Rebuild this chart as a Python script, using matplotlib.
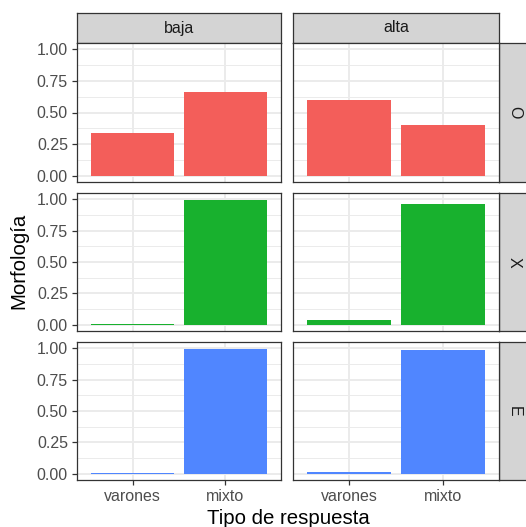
import numpy as np
import matplotlib
matplotlib.use("Agg")
import matplotlib.pyplot as plt
from matplotlib.ticker import FixedLocator

plt.rcParams['font.family'] = ['Liberation Sans', 'DejaVu Sans']

# data
respuestas = ["varones", "mixto"]
niveles = ["baja", "alta"]
morfologias = ["O", "X", "E"]
colores = ["#F35E5A", "#18B12E", "#5086FF"]

prop_O = {"baja": [0.34, 0.66], "alta": [0.595, 0.405]}
prop_X = {"baja": [0.005, 0.995], "alta": [0.037, 0.963]}
prop_E = {"baja": [0.004, 0.993], "alta": [0.013, 0.985]}
valores = [prop_O, prop_X, prop_E]

y_ticks = [0.0, 0.25, 0.5, 0.75, 1.0]
y_minor = [0.125, 0.375, 0.625, 0.875]

W, H = 526, 527
fig = plt.figure(figsize=(W / 100, H / 100), dpi=100)


def px_axes(x0, y0, x1, y1, **kw):
    return fig.add_axes([x0 / W, 1 - y1 / H, (x1 - x0) / W, (y1 - y0) / H], **kw)


def strip(x0, y0, x1, y1, label, rot=0):
    sa = px_axes(x0, y0, x1, y1)
    sa.set_facecolor("#D4D4D4")
    sa.set_xticks([])
    sa.set_yticks([])
    for s in sa.spines.values():
        s.set_color("#333333")
        s.set_linewidth(0.9)
    sa.text(0.5, 0.5, label, transform=sa.transAxes, ha="center", va="center",
            fontsize=11.5, color="#1A1A1A", rotation=rot)


col_x = [(77, 281), (293, 499)]
row_y = [(43, 182), (193, 331), (342, 480)]

for j, nivel in enumerate(niveles):
    strip(col_x[j][0], 13, col_x[j][1], 43, nivel)

for i, morf in enumerate(morfologias):
    strip(499, row_y[i][0], 530, row_y[i][1], morf, rot=-90)
    for j, nivel in enumerate(niveles):
        ax = px_axes(col_x[j][0], row_y[i][0], col_x[j][1], row_y[i][1])
        xs = np.arange(1, len(respuestas) + 1)
        ax.bar(xs, valores[i][nivel], width=0.9, color=colores[i], zorder=3)
        ax.set_xlim(0.4, 2.6)
        ax.set_ylim(-0.05, 1.05)
        ax.set_xticks(xs)
        ax.set_yticks(y_ticks)
        ax.yaxis.set_minor_locator(FixedLocator(y_minor))
        ax.grid(which="major", color="#EBEBEB", linewidth=1.4, zorder=0)
        ax.grid(which="minor", axis="y", color="#EBEBEB", linewidth=0.7, zorder=0)
        ax.set_axisbelow(True)
        for s in ax.spines.values():
            s.set_color("#333333")
            s.set_linewidth(0.9)
        ax.tick_params(which="minor", length=0)
        ax.tick_params(which="major", color="#333333", length=3.5, width=0.9,
                       labelsize=11.5, labelcolor="#4D4D4D", pad=3)
        if j == 0:
            ax.set_yticklabels(["0.00", "0.25", "0.50", "0.75", "1.00"])
        else:
            ax.tick_params(axis="y", length=0, labelleft=False)
        if i == len(morfologias) - 1:
            ax.set_xticklabels(respuestas)
        else:
            ax.tick_params(axis="x", length=0, labelbottom=False)

fig.text(288 / W, 1 - 518 / H, "Tipo de respuesta", ha="center", va="center",
         fontsize=14.7, color="black")
fig.text(19 / W, 1 - 261 / H, "Morfología", ha="center", va="center",
         fontsize=14.7, color="black", rotation=90)

fig.savefig("out.png", dpi=100)
